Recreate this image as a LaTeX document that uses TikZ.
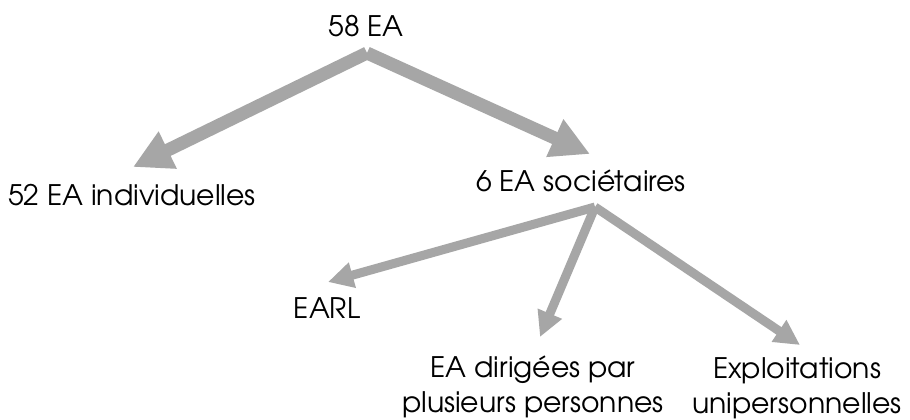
\documentclass[tikz,border=0pt]{standalone}
\usepackage{fontspec}
\setmainfont{texgyreadventor-regular.otf}
\usetikzlibrary{arrows.meta}
\definecolor{arrowgray}{HTML}{A6A6A6}
\begin{document}
\begin{tikzpicture}[x=0.75pt,y=-0.75pt,
  lbl/.style={font=\fontsize{21.2}{26.25}\selectfont, inner sep=0pt, anchor=base, align=center, text=black},
  bigarrow/.style={draw=arrowgray, line width=9.75pt, -{Triangle[length=29pt,width=29pt]}},
  smallarrow/.style={draw=arrowgray, line width=6.75pt, -{Triangle[length=19pt,width=18.5pt]}}]
\useasboundingbox[fill=white] (0,0) rectangle (910,419);

\node[lbl] (top) at (366,36) {58 EA};
\node[lbl] (ind) at (132,205) {52 EA individuelles};
\node[lbl] (soc) at (581,191) {6 EA sociétaires};
\node[lbl] (earl) at (327,318) {EARL};
\node[lbl] (dir) at (533,412) {EA dirigées par\\plusieurs personnes};
\node[lbl] (uni) at (797,413) {Exploitations\\unipersonnelles};

\coordinate (topfork) at (367,53);
\coordinate (socfork) at (595,207);
\coordinate (tind) at (133,167);
\coordinate (tsoc) at (590,154);
\coordinate (tearl) at (328,282);
\coordinate (tdir) at (540,337);
\coordinate (tuni) at (800,345);

\draw[bigarrow] (topfork) -- (tind);
\draw[bigarrow] (topfork) -- (tsoc);
\draw[smallarrow] (socfork) -- (tearl);
\draw[smallarrow] (socfork) -- (tdir);
\draw[smallarrow] (socfork) -- (tuni);
\end{tikzpicture}
\end{document}
